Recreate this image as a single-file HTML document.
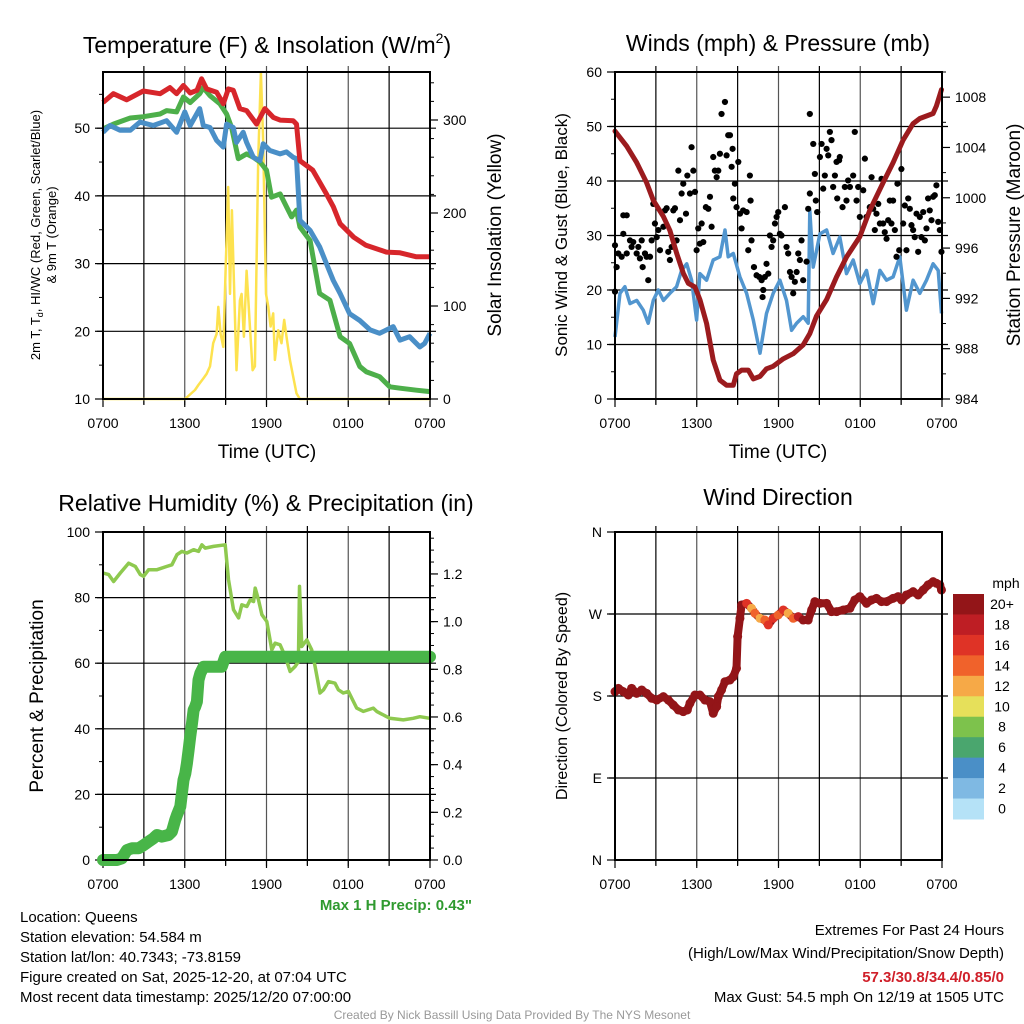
<!DOCTYPE html>
<html><head><meta charset="utf-8"><style>
html,body{margin:0;padding:0;background:#fff;}
svg{display:block;font-family:"Liberation Sans",sans-serif;}
</style></head><body>
<svg id="chart" width="1024" height="1024" viewBox="0 0 1024 1024" xmlns="http://www.w3.org/2000/svg"></svg>
<script>
// ---------- Data ----------
const tempHours=[0,0.76,1.74,2.96,4.18,4.91,5.4,5.9,6.4,6.9,7.24,7.6,8.34,8.83,9.2,9.56,10.05,10.54,11.27,11.88,12.5,13.0,13.96,14.2,14.45,15.4,16.4,16.9,17.4,18.4,19.3,20.8,21.8,23.0,24];
const tempValues=[53.8,55.1,54.2,55.5,55.1,56.0,55.1,56.3,55.2,55.6,57.3,55.8,55.3,53.6,55.8,55.6,52.9,52.6,50.6,52.9,51.6,51.2,51.1,50.6,45.2,43.8,40.3,38.4,35.9,33.9,32.7,31.7,31.6,31.0,31.0];
const dewHours=[0,0.76,2.0,2.96,4.18,4.67,5.4,5.9,6.4,7.1,7.36,7.85,8.58,9.07,9.44,9.93,10.54,11.03,11.52,12.0,12.37,13.0,13.47,13.84,14.2,14.45,15.2,15.9,16.65,17.4,18.1,18.85,19.34,20.3,21.05,21.8,23.0,24];
const dewValues=[49.9,50.6,51.5,51.7,52.1,52.6,52.4,54.6,53.8,55.1,56.0,54.8,53.6,52.1,50.1,45.5,46.2,45.7,45.0,43.8,39.8,40.3,38.4,36.9,37.9,35.4,33.4,25.6,24.6,19.2,18.2,14.8,14.0,13.3,11.8,11.6,11.3,11.1];
const chillHours=[0,0.51,1.25,2.0,2.71,3.69,4.67,5.4,6.0,6.4,7.1,7.36,7.85,8.34,8.83,9.07,9.56,9.8,10.29,10.54,11.03,11.52,11.76,12.25,13.0,13.47,13.96,14.2,14.45,15.2,15.9,16.4,16.9,17.4,18.1,18.85,19.6,20.3,21.3,21.8,22.5,23.25,23.6,24];
const chillValues=[49.4,50.4,49.7,49.7,50.9,50.4,51.1,49.4,52.4,50.4,52.9,50.4,50.1,48.2,47.2,50.6,50.1,47.9,49.4,47.9,45.7,45.2,47.7,46.7,46.2,46.5,45.7,45.5,36.4,34.9,32.5,30.0,27.5,25.6,22.6,21.6,20.2,19.7,20.7,18.7,19.2,17.7,18.2,19.7];
const solarHours=[0,6.02,6.75,7.0,7.36,7.6,7.85,8.09,8.34,8.46,8.63,8.83,9.02,9.19,9.32,9.46,9.56,9.8,10.05,10.17,10.34,10.54,10.78,10.98,11.15,11.39,11.59,11.76,11.96,12.13,12.3,12.49,12.62,12.86,13.1,13.3,13.47,13.72,14.2,14.45,24];
const solarValues=[0,0,9.7,15,22,27,35,60,70,99,70,56,149,228,113,203,149,31,106,113,67,138,78,31,35,257,351,276,113,99,78,92,42,74,60,85,67,42,6,0,0];

const presHours=[0,0.86,1.59,2.32,2.81,3.55,4.03,4.52,5.01,5.38,5.87,6.23,6.72,7.21,7.7,8.19,8.68,8.92,9.29,9.78,10.15,10.64,11.12,11.61,12.35,13.08,13.81,14.3,14.79,15.53,16.26,17.0,17.97,18.7,19.68,20.41,21.15,21.88,22.37,23.35,23.59,23.96];
const presValues=[1005.3,1004.1,1002.8,1001.2,999.8,998.5,997.4,995.6,994.0,993.2,992.9,991.9,990.0,987.1,985.5,985.1,985.1,986.0,986.3,986.3,985.6,985.8,986.4,986.6,987.2,987.6,988.3,989.2,990.6,991.9,993.7,995.3,996.9,999.0,1001.2,1002.8,1004.6,1005.9,1006.3,1006.7,1007.3,1008.6];
const windHours=[0,0.37,0.73,1.10,1.59,2.08,2.44,2.81,3.18,3.55,4.03,4.52,4.89,5.26,5.62,5.99,6.23,6.72,7.21,7.7,8.07,8.31,8.68,9.17,9.66,10.15,10.64,11.12,11.61,12.1,12.59,12.96,13.33,13.81,14.18,14.30,14.55,15.04,15.53,16.01,16.5,16.99,17.48,17.97,18.46,18.95,19.44,19.93,20.41,20.9,21.39,21.88,22.37,22.86,23.35,23.72,23.96];
const windValues=[11.4,19.4,20.6,17.5,18.1,16.3,13.9,18.1,20.0,18.1,19.4,20.6,23.6,24.8,21.8,14.5,23.0,21.8,25.5,26.1,31.0,26.1,26.7,22.4,19.4,14.5,8.4,15.7,19.4,21.8,18.1,12.6,13.9,15.1,13.9,34.6,24.2,30.3,31.0,26.7,29.7,23.0,25.5,21.2,23.6,17.5,23.6,21.8,22.4,26.1,16.3,21.8,19.4,21.8,24.8,23.6,15.7];
const gustHours=[0,0,0.12,0.24,0.49,0.61,0.86,0.61,0.86,1.1,1.22,1.34,1.59,1.71,1.83,1.96,2.03,2.2,2.32,2.44,2.57,2.69,2.81,2.93,3.06,3.18,3.3,3.55,3.67,3.79,3.91,4.03,4.16,4.28,4.4,4.52,4.65,4.77,4.89,5.01,5.21,5.31,5.5,5.62,5.75,5.87,5.99,6.11,6.23,6.36,6.48,6.67,6.85,6.97,7.09,7.21,7.33,7.46,7.58,7.7,7.82,8.07,8.19,8.31,8.44,8.56,8.63,8.68,8.8,8.92,9.05,9.17,9.29,9.41,9.66,9.78,9.9,9.95,10.02,10.2,10.39,10.59,10.76,10.88,10.83,11.0,11.12,11.25,11.37,11.49,11.61,11.74,11.86,11.98,12.1,12.22,12.47,12.59,12.71,12.84,12.96,13.08,13.2,13.33,13.45,13.57,13.69,13.81,14.06,14.18,14.3,14.3,14.55,14.67,14.74,14.84,15.04,15.16,15.28,15.4,15.53,15.65,15.77,15.89,16.01,16.14,16.26,16.31,16.45,16.5,16.7,16.87,16.99,17.11,17.24,17.48,17.6,17.73,17.85,17.97,18.22,18.34,18.46,18.7,18.83,18.95,19.07,19.19,19.32,19.44,19.56,19.68,19.8,19.93,20.05,20.17,20.29,20.41,20.54,20.66,20.73,20.86,21.02,21.15,21.27,21.39,21.52,21.64,21.76,21.88,22.0,22.13,22.25,22.37,22.49,22.62,22.74,22.86,22.98,23.1,23.23,23.35,23.47,23.59,23.72,23.84,23.96];
const gustValues=[19.7,28.2,24.2,26.7,26.1,33.7,33.7,30.3,26.7,29.1,27.9,28.8,26.7,27.9,25.8,29.1,24.2,26.7,26.1,21.8,26.1,29.1,35.8,32.2,29.7,31.0,27.3,31.6,34.6,35.0,27.0,25.5,27.9,34.6,35.0,29.1,41.9,32.8,37.7,39.5,34.0,41.0,37.7,46.2,41.9,38.0,27.3,31.3,28.5,32.2,28.8,35.2,34.9,37.1,31.6,44.4,41.9,40.7,41.9,45.0,52.3,54.5,44.7,48.4,48.4,42.6,45.9,36.8,39.5,35.2,43.5,34.0,31.3,34.6,34.3,27.3,41.0,36.4,29.1,24.2,22.7,22.4,21.8,20.0,18.7,22.4,24.8,23.0,30.0,27.9,29.1,32.2,33.4,34.3,30.3,30.0,35.2,27.9,26.7,23.3,22.4,19.4,21.5,23.3,26.7,25.5,29.1,21.8,25.2,34.9,37.7,52.3,46.8,41.3,36.4,34.3,44.4,46.8,38.6,41.0,45.9,44.7,49.0,47.5,38.9,41.0,43.5,36.8,43.8,44.4,35.2,38.9,36.4,40.1,38.9,41.0,49.0,36.4,38.9,33.4,38.3,44.1,33.4,35.2,40.7,34.9,31.0,34.0,35.8,32.2,40.4,32.2,30.6,29.4,32.8,36.4,32.2,36.4,31.0,26.1,39.5,27.3,42.2,32.2,35.5,27.3,36.8,34.9,31.9,31.0,29.7,34.0,27.0,33.4,29.7,34.3,29.1,31.3,36.8,34.6,32.8,37.1,37.4,39.2,32.5,31.0,27.0];

const rhHours=[0,0.42,0.78,1.27,1.88,2.37,2.74,2.98,3.35,3.96,4.69,5.06,5.43,5.79,6.16,6.65,7.01,7.26,7.5,8.11,8.97,9.21,9.58,9.95,10.19,10.56,10.8,11.05,11.17,11.41,11.66,12.02,12.39,12.63,13.0,13.37,13.73,14.1,14.34,14.42,14.59,14.96,15.32,15.57,15.93,16.18,16.54,17.03,17.28,17.64,18.01,18.62,19.11,19.84,20.09,20.82,21.06,22.04,22.77,23.26,24.0];
const rhValues=[87.5,87.0,84.9,87.5,90.5,89.5,87.0,86.5,88.5,88.5,89.5,90.0,93.1,94.1,93.6,94.6,94.1,96.1,95.1,95.6,96.1,85.5,76.3,73.8,77.8,77.3,79.3,78.8,82.9,79.3,74.8,72.7,64.1,66.1,65.6,62.1,57.5,59.0,60.5,83.4,65.1,67.1,64.1,59.0,50.9,51.9,54.4,53.9,51.9,50.9,51.4,46.3,45.3,46.3,45.3,43.7,43.2,42.7,43.2,43.7,43.2];
const precipHours=[0,0.54,1.03,1.39,1.76,2.13,2.61,3.0,3.35,3.71,3.96,4.33,4.81,5.06,5.3,5.43,5.67,5.79,5.91,6.04,6.16,6.28,6.4,6.53,6.65,6.77,6.89,7.01,7.14,7.38,7.87,8.36,8.72,8.97,24];
const precipValues=[0,0,0,0.007,0.042,0.049,0.049,0.063,0.077,0.091,0.105,0.098,0.105,0.119,0.168,0.189,0.224,0.280,0.335,0.363,0.405,0.461,0.517,0.573,0.629,0.643,0.664,0.755,0.783,0.811,0.811,0.811,0.811,0.853,0.853];

const dirHours=[0,0.24,0.61,0.98,1.22,1.59,1.96,2.32,2.69,3.06,3.55,3.91,4.28,4.65,5.01,5.31,5.5,5.87,6.23,6.6,6.97,7.21,7.46,7.58,7.82,8.07,8.44,8.68,8.92,9.0,9.17,9.29,9.66,10.02,10.27,10.64,11.0,11.25,11.61,11.98,12.35,12.71,13.08,13.45,13.81,14.18,14.43,14.67,15.04,15.53,15.89,16.26,16.75,17.24,17.6,17.97,18.46,18.83,19.19,19.56,19.93,20.41,20.78,21.03,21.39,21.88,22.25,22.62,22.98,23.35,23.59,23.84,23.96];
const dirValues=[184.8,188.4,184.8,181.1,188.4,182.9,186.6,182.9,177.5,175.6,179.3,175.6,170.1,164.7,162.8,164.7,172.0,181.1,181.1,175.6,173.8,161.0,168.3,179.3,186.6,195.7,197.6,201.2,210.4,245.1,265.3,279.9,281.7,276.3,270.8,265.3,263.4,258.0,265.3,268.9,274.4,270.8,265.3,267.1,263.4,263.4,274.4,283.6,281.7,281.7,272.6,272.6,274.4,276.3,285.4,289.1,281.7,285.4,287.2,283.6,283.6,287.2,289.1,285.4,290.9,294.5,290.9,296.4,301.9,305.5,303.7,301.9,296.4];
const dirSpeeds=[22,22,22,22,22,22,22,22,22,22,22,22,22,22,22,22,22,22,22,22,22,22,22,22,22,22,22,22,22,22,22,22,16,13,15,12,14,17,16,14,17,13,15,18,22,22,22,22,22,22,22,22,22,22,22,22,22,22,22,22,22,22,22,22,22,22,22,22,22,22,22,22,22];
const speedBins=[0,2,4,6,8,10,12,14,16,18,20];
const speedLabels=["0","2","4","6","8","10","12","14","16","18","20+"];
const speedColors=["#b5e2f7","#7fb9e3","#4a8fc7","#4aa66e","#7dc24c","#e6e05a","#f6a947","#f0622b","#df3326","#be1e24","#931518"];
const xTickLabels=["0700","1300","1900","0100","0700"];

// ---------- helpers ----------
const NS="http://www.w3.org/2000/svg";
const svg=document.getElementById('chart');
function mk(tag,attrs,parent){const e=document.createElementNS(NS,tag);for(const k in attrs)e.setAttribute(k,attrs[k]);(parent||svg).appendChild(e);return e;}
function txt(s,x,y,size,anchor,parent,extra){const t=mk('text',Object.assign({x:x,y:y,'font-size':size,'text-anchor':anchor||'middle',fill:'#000'},extra||{}),parent);t.textContent=s;return t;}
function xs(P){return h=>P.x+h/24*P.w;}
function ys(P,lo,hi){return v=>P.y+P.h-(v-lo)/(hi-lo)*P.h;}
function poly(hs,vs,X,Y){return hs.map((h,i)=>X(h).toFixed(1)+','+Y(vs[i]).toFixed(1)).join(' ');}

function frame(P,name,leftTicks,leftLabels,lLo,lHi,leftMinor,gridTicks){
  const g=mk('g',{});
  
  
  const X=xs(P),Y=ys(P,lLo,lHi);
  for(let h=3;h<24;h+=3){const l=mk('line',{x1:X(h),x2:X(h),y1:P.y-6,y2:P.y+P.h+6,stroke:(h%6==0)?'#555':'#000','stroke-width':1.2},g);
    
    }
  gridTicks.forEach(v=>{const l=mk('line',{x1:P.x-6,x2:P.x+P.w+6,y1:Y(v),y2:Y(v),stroke:'#000','stroke-width':1.2},g);
    
    });
  for(let i=0;i<5;i++){const h=i*6;
    mk('line',{x1:X(h),x2:X(h),y1:P.y+P.h,y2:P.y+P.h+8,stroke:'#000','stroke-width':1.2},g);
    const t=txt(xTickLabels[i],X(h),P.y+P.h+29,14,'middle',g);
    
    }
  for(let h=3;h<24;h+=6){mk('line',{x1:X(h),x2:X(h),y1:P.y+P.h,y2:P.y+P.h+5,stroke:'#000'},g);}
  leftMinor.forEach(v=>mk('line',{x1:P.x-4,x2:P.x,y1:Y(v),y2:Y(v),stroke:'#000'},g));
  leftTicks.forEach((v,i)=>{mk('line',{x1:P.x-8,x2:P.x,y1:Y(v),y2:Y(v),stroke:'#000','stroke-width':1.2},g);
    const t=txt(leftLabels[i],P.x-13,Y(v)+5,14,'end',g);
    
    });
  return {g,X,Y};
}
function rightAxis(P,g,ticks,labels,lo,hi,minor){
  const Y=ys(P,lo,hi);
  minor.forEach(v=>mk('line',{x1:P.x+P.w,x2:P.x+P.w+4,y1:Y(v),y2:Y(v),stroke:'#000'},g));
  ticks.forEach((v,i)=>{mk('line',{x1:P.x+P.w,x2:P.x+P.w+8,y1:Y(v),y2:Y(v),stroke:'#000','stroke-width':1.2},g);
    const t=txt(labels[i],P.x+P.w+13,Y(v)+5,14,'start',g);
    
    });
  return Y;
}
function border(P,g){const r=mk('rect',{x:P.x,y:P.y,width:P.w,height:P.h,fill:'none',stroke:'#000','stroke-width':2},g);
  
  }
function range(a,b,s){const r=[];for(let v=a;v<=b+1e-9;v+=s)r.push(+v.toFixed(3));return r;}

// ---------- Panel 1 ----------
const P1={x:103,y:72,w:327,h:327};
{
  const f=frame(P1,'temperature-panel',[10,20,30,40,50],['10','20','30','40','50'],10,58.3,range(15,55,10),[20,30,40,50]);
  const YR=rightAxis(P1,f.g,[0,100,200,300],['0','100','200','300'],0,351.6,range(20,340,20));
  const s=mk('polyline',{points:poly(solarHours,solarValues,f.X,YR),fill:'none',stroke:'#fde24f','stroke-width':2.5,'stroke-linejoin':'round'},f.g);
  
  
  const d=mk('polyline',{points:poly(dewHours,dewValues,f.X,f.Y),fill:'none',stroke:'#4daf4a','stroke-width':5,'stroke-linejoin':'round'},f.g);
  
  
  const c=mk('polyline',{points:poly(chillHours,chillValues,f.X,f.Y),fill:'none',stroke:'#4a8fc7','stroke-width':5,'stroke-linejoin':'round'},f.g);
  
  
  const t=mk('polyline',{points:poly(tempHours,tempValues,f.X,f.Y),fill:'none',stroke:'#d7262b','stroke-width':5,'stroke-linejoin':'round'},f.g);
  
  
  border(P1,f.g);
}
// ---------- Panel 2 ----------
const P2={x:615,y:72,w:327,h:327};
{
  const f=frame(P2,'winds-panel',[0,10,20,30,40,50,60],['0','10','20','30','40','50','60'],0,60,range(5,55,10),[10,20,30,40,50]);
  const YR=rightAxis(P2,f.g,[984,988,992,996,1000,1004,1008],['984','988','992','996','1000','1004','1008'],984,1010,range(986,1010,4));
  const w=mk('polyline',{points:poly(windHours,windValues,f.X,f.Y),fill:'none',stroke:'#5296cf','stroke-width':3.5,'stroke-linejoin':'round'},f.g);
  
  
  gustHours.forEach((h,i)=>{const c=mk('circle',{cx:f.X(h),cy:f.Y(gustValues[i]),r:3.1,fill:'#000'},f.g);
    
    });
  const p=mk('polyline',{points:poly(presHours,presValues,f.X,YR),fill:'none',stroke:'#9b1b1e','stroke-width':5,'stroke-linejoin':'round','stroke-linecap':'round'},f.g);
  
  
  border(P2,f.g);
}
// ---------- Panel 3 ----------
const P3={x:103,y:532,w:327,h:328};
{
  const f=frame(P3,'humidity-panel',[0,20,40,60,80,100],['0','20','40','60','80','100'],0,100,range(10,90,20),[20,40,60,80]);
  const YR=rightAxis(P3,f.g,[0,0.2,0.4,0.6,0.8,1.0,1.2],['0.0','0.2','0.4','0.6','0.8','1.0','1.2'],0,1.376,range(0.05,1.35,0.05));
  const r=mk('polyline',{points:poly(rhHours,rhValues,f.X,f.Y),fill:'none',stroke:'#8ec94f','stroke-width':3.5,'stroke-linejoin':'round'},f.g);
  
  
  const p=mk('polyline',{points:poly(precipHours,precipValues,f.X,YR),fill:'none',stroke:'#48b548','stroke-width':12,'stroke-linejoin':'round','stroke-linecap':'round'},f.g);
  
  
  border(P3,f.g);
}
// ---------- Panel 4 ----------
const P4={x:615,y:532,w:327,h:328};
{
  const f=frame(P4,'wind-direction-panel',[0,90,180,270,360],['N','E','S','W','N'],0,360,[],[90,180,270]);
  function col(s){let c=speedColors[0];speedBins.forEach((b,i)=>{if(s>=b)c=speedColors[i];});return c;}
  const l=mk('polyline',{points:poly(dirHours,dirValues,f.X,f.Y),fill:'none',stroke:'#931518','stroke-width':8,'stroke-linejoin':'round','stroke-linecap':'round'},f.g);
  
  
  dirHours.forEach((h,i)=>{const c=mk('circle',{cx:f.X(h),cy:f.Y(dirValues[i]),r:4.5,fill:col(dirSpeeds[i])},f.g);
    
    });
  border(P4,f.g);
  const cb=mk('g',{});
  
  
  const bh=225/11;
  for(let i=0;i<11;i++){const k=10-i;
    const r=mk('rect',{x:953,y:594+i*bh,width:31,height:bh+0.5,fill:speedColors[k]},cb);
    
    
    const t=txt(speedLabels[k],1002,594+i*bh+15,14,'middle',cb);
    
    }
  const u=txt('mph',1006,588,14,'middle',cb);
  
  
}

// ---------- Titles & labels ----------
function label(s,x,y,size,name,opts){const t=txt(s,x,y,size,(opts&&opts.anchor)||'middle',svg,(opts&&opts.extra)||{});
  if(opts&&opts.rot)t.setAttribute('transform','rotate(-90 '+x+' '+y+')');
  
  return t;}
{const t=label('',267,53,23,'temperature-title');t.innerHTML='Temperature (F) &amp; Insolation (W/m<tspan font-size="14" dy="-10">2</tspan><tspan dy="10">)</tspan>';}
label('Winds (mph) & Pressure (mb)',778,51,23,'winds-title');
label('Relative Humidity (%) & Precipitation (in)',266,511,23,'humidity-title');
label('Wind Direction',778,505,23,'wind-direction-title');
label('Time (UTC)',267,458,19,'temperature-x-axis-title');
label('Time (UTC)',778,458,19,'winds-x-axis-title');
{const t=label('',40,235,13,'temperature-y-axis-title',{rot:true});t.innerHTML='2m T, T<tspan font-size="9" dy="3">d</tspan><tspan dy="-3">, HI/WC (Red, Green, Scarlet/Blue)</tspan>';}
label('& 9m T (Orange)',56,235,13,'temperature-y-axis-title-line2',{rot:true});
label('Solar Insolation (Yellow)',501,235,19,'solar-y-axis-title',{rot:true});
label('Sonic Wind & Gust (Blue, Black)',567,235,17,'wind-y-axis-title',{rot:true});
label('Station Pressure (Maroon)',1020,235,19,'pressure-y-axis-title',{rot:true});
label('Percent & Precipitation',43,696,19,'humidity-y-axis-title',{rot:true});
label('Direction (Colored By Speed)',567,696,16,'direction-y-axis-title',{rot:true});
label('Max 1 H Precip: 0.43"',472,910,15,'max-precip-note',{anchor:'end',extra:{fill:'#2f9a2f','font-weight':'bold'}});
const info=['Location: Queens','Station elevation: 54.584 m','Station lat/lon: 40.7343; -73.8159','Figure created on Sat, 2025-12-20, at 07:04 UTC','Most recent data timestamp: 2025/12/20 07:00:00'];
info.forEach((s,i)=>label(s,20,922+i*20,15,'station-info-line',{anchor:'start'}));
label('Extremes For Past 24 Hours',1004,935,15,'extremes-title',{anchor:'end'});
label('(High/Low/Max Wind/Precipitation/Snow Depth)',1004,958,15,'extremes-subtitle',{anchor:'end'});
label('57.3/30.8/34.4/0.85/0',1004,982,15,'extremes-values',{anchor:'end',extra:{fill:'#d0202a','font-weight':'bold'}});
label('Max Gust: 54.5 mph On 12/19 at 1505 UTC',1004,1002,15,'max-gust-note',{anchor:'end'});
label('Created By Nick Bassill Using Data Provided By The NYS Mesonet',512,1019,12,'credit-footer',{extra:{fill:'#999'}});
</script>
</body></html>
